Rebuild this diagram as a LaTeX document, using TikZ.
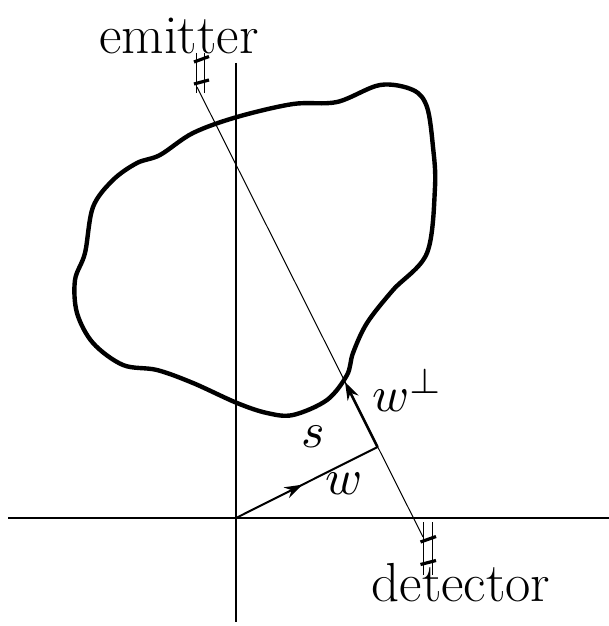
\documentclass[tikz,border=0pt]{standalone}
\usetikzlibrary{arrows.meta,decorations.markings}
\begin{document}
\begin{tikzpicture}[x=0.5pt,y=-0.5pt,
  axis/.style={line width=1pt},
  blob/.style={line width=2.2pt,line join=round},
  ray/.style={line width=0.5pt},
  holder/.style={line width=0.5pt},
  tick/.style={line width=1.6pt},
  lbl/.style={inner sep=0pt,font=\fontsize{27.5}{32}\selectfont},
  mlbl/.style={inner sep=0pt,font=\normalsize,scale=2.5}]
\useasboundingbox (0,0) rectangle (609,626);
% axes
\coordinate (O) at (236,518);
\coordinate (xl) at (8,518);
\coordinate (xr) at (609,518);
\coordinate (yt) at (236,63);
\coordinate (yb) at (236,622);
\draw[axis] (xl) -- (xr);
\draw[axis] (yt) -- (yb);
% blob
\draw[blob] plot[smooth cycle,tension=0.55] coordinates {
 (337,102) (380,85) (413,90) (427,107) (433,147) (435,187) (427,253)
 (393,290) (367,323) (353,353) (347,375) (327,400) (293,415) (267,413)
 (237,403) (193,383) (157,370) (123,365) (93,343) (77,313) (75,280)
 (85,253) (93,207) (113,180) (137,163) (160,155) (193,133) (237,117)
 (293,104)};
% ray
\coordinate (E) at (197,87);
\coordinate (D) at (423,537);
\coordinate (F) at (377.5,447);
\coordinate (T) at (345,382);
\draw[ray] (E) -- (D);
% emitter holder
\draw[holder] (196.5,53) -- (196.5,93);
\draw[holder] (204.5,53) -- (204.5,93);
\draw[tick] (194,62) -- (209,56.5);
\draw[tick] (194,84) -- (209,80);
% detector holder
\draw[holder] (423.5,522) -- (423.5,575);
\draw[holder] (432.5,522) -- (432.5,575);
\draw[tick] (420.5,542) -- (436,536.5);
\draw[tick] (420.5,564.5) -- (436,560.5);
% w arrow
\draw[line width=1pt,
  postaction={decorate,decoration={markings,
    mark=at position 0.47 with {\arrow{Stealth[length=9pt,width=6pt]}}}}]
  (O) -- (F);
% w perp arrow
\draw[line width=1.3pt,-{Stealth[length=9pt,width=6pt]}] (F) -- (T);
% labels
\node[lbl] (em) at (179,36) {emitter};
\node[lbl] (de) at (461,583) {detector};
\node[mlbl] (s) at (313,437) {$s$};
\node[mlbl] (w) at (344,484) {$w$};
\node[mlbl] (wp) at (408,390) {$w^{\perp}$};
\end{tikzpicture}
\end{document}
